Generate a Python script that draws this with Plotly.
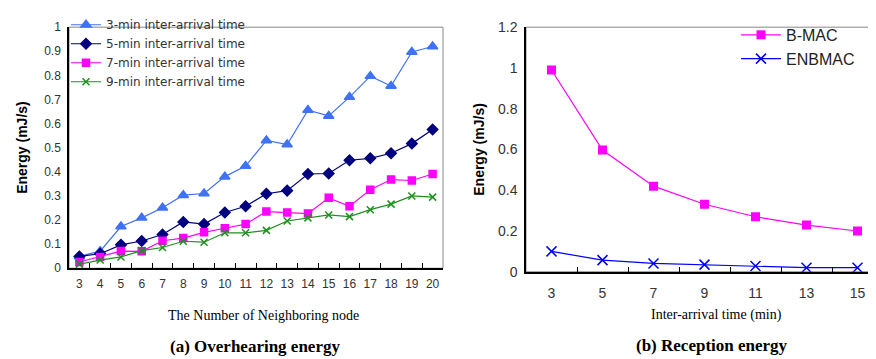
import plotly.graph_objects as go

nodes = [3, 4, 5, 6, 7, 8, 9, 10, 11, 12, 13, 14, 15, 16, 17, 18, 19, 20]
min3 = [0.049, 0.071, 0.173, 0.209, 0.251, 0.303, 0.31, 0.38, 0.424, 0.53, 0.513, 0.656, 0.632, 0.71, 0.797, 0.756, 0.897, 0.92]
min5 = [0.049, 0.06, 0.097, 0.113, 0.14, 0.192, 0.183, 0.231, 0.257, 0.309, 0.322, 0.391, 0.393, 0.448, 0.456, 0.477, 0.517, 0.576]
min7 = [0.026, 0.047, 0.071, 0.07, 0.114, 0.125, 0.149, 0.166, 0.183, 0.235, 0.231, 0.227, 0.292, 0.257, 0.326, 0.368, 0.364, 0.391]
min9 = [0.017, 0.034, 0.047, 0.073, 0.086, 0.112, 0.108, 0.147, 0.147, 0.157, 0.196, 0.209, 0.221, 0.214, 0.243, 0.266, 0.3, 0.295]

inter = [3, 5, 7, 9, 11, 13, 15]
bmac = [0.99, 0.597, 0.42, 0.331, 0.27, 0.229, 0.2]
enbmac = [0.1, 0.057, 0.041, 0.035, 0.028, 0.02, 0.02]

W, H = 876, 359
fig = go.Figure()

xs = [str(n) for n in nodes]
left = [
    ("3-min inter-arrival time", min3, "#3f72f5", "triangle-up", 9),
    ("5-min inter-arrival time", min5, "#000080", "diamond", 8),
    ("7-min inter-arrival time", min7, "#ff00ff", "square", 7),
    ("9-min inter-arrival time", min9, "#1f8f1f", "x-thin", 7),
]
for name, ys, col, sym, sz in left:
    fig.add_trace(go.Scatter(
        x=xs, y=ys, name=name, mode="lines+markers", xaxis="x", yaxis="y",
        line=dict(color=col, width=1.2),
        marker=dict(symbol=sym, size=sz, color=col, line=dict(color=col, width=1.5)),
        legend="legend",
    ))

xi = [str(v) for v in inter]
fig.add_trace(go.Scatter(
    x=xi, y=bmac, name="B-MAC", mode="lines+markers", xaxis="x2", yaxis="y2",
    line=dict(color="#ff00ff", width=1.2),
    marker=dict(symbol="square", size=9, color="#ff00ff"), legend="legend2",
))
fig.add_trace(go.Scatter(
    x=xi, y=enbmac, name="ENBMAC", mode="lines+markers", xaxis="x2", yaxis="y2",
    line=dict(color="#0000ff", width=1.2),
    marker=dict(symbol="x-thin", size=10, color="#0000ff", line=dict(color="#0000ff", width=1.5)),
    legend="legend2",
))

tickfont = dict(family="Liberation Sans, Arial", size=12, color="#333")
def px(x): return x / W
def py(y): return 1 - y / H

fig.update_layout(
    width=W, height=H, margin=dict(l=0, r=0, t=0, b=0),
    paper_bgcolor="white", plot_bgcolor="white",
    xaxis=dict(domain=[px(61), px(435)], type="category", range=[-0.5, 17.5],
               tickson="boundaries", ticks="inside", ticklen=5, tickcolor="black",
               showgrid=False, showline=True, linecolor="black", linewidth=1.5,
               tickfont=tickfont, tickangle=0, ticklabelstandoff=4,
               anchor="y", zeroline=False),
    yaxis=dict(domain=[py(264), py(11.7)], range=[0, 1], dtick=0.1,
               showgrid=False, showline=True, linecolor="black", linewidth=1.5,
               ticks="", tickfont=tickfont, ticklabelstandoff=4, anchor="x", zeroline=False),
    xaxis2=dict(domain=[px(518), px(875)], type="category", range=[-0.5, 6.5],
                tickson="boundaries", ticks="inside", ticklen=5, tickcolor="black",
                showgrid=False, showline=True, linecolor="black", linewidth=1.5,
                tickfont=dict(family="Liberation Sans, Arial", size=14, color="#333"),
                tickangle=0, ticklabelstandoff=8, anchor="y2", zeroline=False),
    yaxis2=dict(domain=[py(267.7), py(11.7)], range=[0, 1.2], dtick=0.2,
                showgrid=False, showline=True, linecolor="black", linewidth=1.5,
                ticks="", tickfont=dict(family="Liberation Sans, Arial", size=14, color="#333"),
                ticklabelstandoff=4, anchor="x2", zeroline=False),
    legend=dict(x=px(58), y=py(-6), xanchor="left", yanchor="top",
                bgcolor="rgba(0,0,0,0)", font=dict(family="DejaVu Sans", size=12, color="#333"),
                tracegroupgap=0, itemwidth=30),
    legend2=dict(x=px(728), y=py(2), xanchor="left", yanchor="top",
                 bgcolor="rgba(0,0,0,0)", font=dict(family="Liberation Sans, Arial", size=16, color="#222"),
                 itemwidth=40),
    showlegend=True,
)

for xr, yr in [("x domain", "y domain"), ("x2 domain", "y2 domain")]:
    fig.add_shape(type="rect", xref=xr, yref=yr, x0=0, x1=1, y0=0, y1=1,
                  line=dict(color="#888", width=1), layer="below")

ann = [
    (14, 138, "Energy (mJ/s)", -90, dict(family="Liberation Sans, Arial", size=14, color="black"), True),
    (471, 140, "Energy (mJ/s)", -90, dict(family="Liberation Sans, Arial", size=14, color="black"), True),
    (255, 313, "The Number of Neighboring node", 0, dict(family="Liberation Serif, Times New Roman", size=14, color="black"), False),
    (708, 313, "Inter-arrival time (min)", 0, dict(family="Liberation Serif, Times New Roman", size=14, color="black"), False),
    (247, 346, "<b>(a) Overhearing energy</b>", 0, dict(family="Liberation Serif, Times New Roman", size=17, color="black"), False),
    (704, 345, "<b>(b) Reception energy</b>", 0, dict(family="Liberation Serif, Times New Roman", size=17, color="black"), False),
]
for x, y, t, rot, f, bold in ann:
    fig.add_annotation(x=px(x), y=py(y), xref="paper", yref="paper", text=("<b>%s</b>" % t) if bold else t,
                       showarrow=False, textangle=rot, font=f, xanchor="center", yanchor="middle")

fig.write_html("out.html")
